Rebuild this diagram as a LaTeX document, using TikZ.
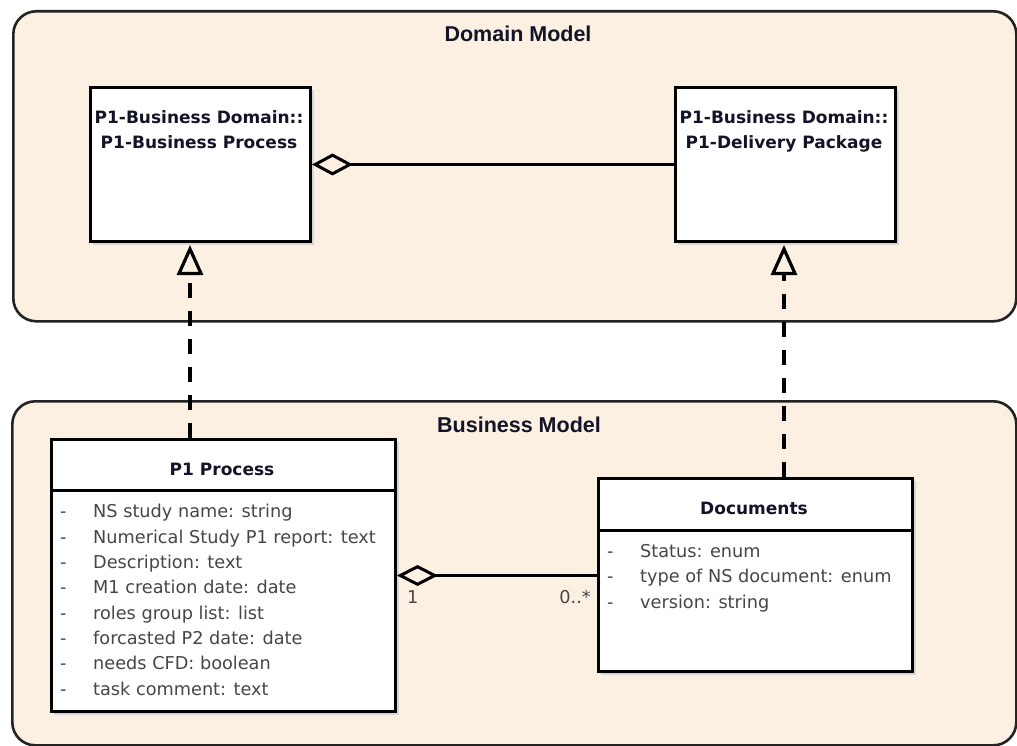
\documentclass[tikz,border=0pt]{standalone}
\usepackage{fontspec}
\setmainfont{DejaVu Sans}
\newfontfamily\pkgfont{Liberation Sans}
\usetikzlibrary{arrows.meta}
\definecolor{pkgfill}{RGB}{251,240,225}
\definecolor{pkgline}{RGB}{35,35,35}
\definecolor{attrtext}{RGB}{70,70,75}
\definecolor{nametext}{RGB}{20,20,40}
\tikzset{
  pkgbox/.style={draw=pkgline, line width=2.6pt, fill=pkgfill, rounded corners=23pt, inner sep=0pt, anchor=north west},
  pkgtitle/.style={font={\pkgfont\bfseries\fontsize{21.5}{24}\selectfont}, text=nametext, anchor=base, inner sep=0pt},
  umlbox/.style={draw=black, line width=3pt, fill=white, inner sep=0pt, anchor=north west,
    preaction={fill=black!16, draw=black!16, line width=1pt, transform canvas={shift={(3pt,-3pt)}}}},
  classname/.style={font={\bfseries\fontsize{17}{25}\selectfont}, text=nametext, anchor=base, inner sep=0pt, align=center},
  attrs/.style={font={\fontsize{17.7}{25.3}\selectfont}, text=attrtext, anchor=base west, inner sep=0pt, align=left},
  mult/.style={font={\fontsize{17.7}{20}\selectfont}, text=attrtext, inner sep=0pt},
  assoc/.style={draw=black, line width=3pt},
  realize/.style={draw=black, line width=3.2pt, dash pattern=on 15pt off 13pt},
}
\newcommand{\dashcol}[1]{\makebox[33pt][l]{-}#1}
\begin{document}
\begin{tikzpicture}[x=1pt, y=-1pt]
\useasboundingbox (0,0) rectangle (1017,746);

% packages
\node[pkgbox, minimum width=1003pt, minimum height=310pt] (domain) at (12,10) {};
\node[pkgtitle] (domaintitle) at (518,42) {Domain Model};
\node[pkgbox, minimum width=1004pt, minimum height=344pt] (business) at (11,400) {};
\node[pkgtitle] (businesstitle) at (519,432) {Business Model};

% domain classes (base anchor = baseline of last line)
\node[umlbox, minimum width=220pt, minimum height=154pt] (bp) at (89,86) {};
\node[classname] (bptext) at (199,149) {P1-Business Domain::\\P1-Business Process};
\node[umlbox, minimum width=220pt, minimum height=154pt] (dp) at (674,86) {};
\node[classname] (dptext) at (784,149) {P1-Business Domain::\\P1-Delivery Package};

% business classes
\node[umlbox, minimum width=344pt, minimum height=272pt] (proc) at (50,438) {};
\draw[line width=3pt] (proc.west |- 0,490) -- (proc.east |- 0,490);
\node[classname] (proctitle) at (222,475) {P1 Process};
\node[attrs] (procattrs) at (60,695) {\dashcol{NS study name: string}\\
\dashcol{Numerical Study P1 report: text}\\
\dashcol{Description: text}\\
\dashcol{M1 creation date: date}\\
\dashcol{roles group list: list}\\
\dashcol{forcasted P2 date: date}\\
\dashcol{needs CFD: boolean}\\
\dashcol{task comment: text}};

\node[umlbox, minimum width=314pt, minimum height=193pt] (docs) at (597,477) {};
\draw[line width=3pt] (docs.west |- 0,530) -- (docs.east |- 0,530);
\node[classname] (docstitle) at (754,514) {Documents};
\node[attrs] (docsattrs) at (607,608) {\dashcol{Status: enum}\\
\dashcol{type of NS document: enum}\\
\dashcol{version: string}};

% aggregations
\draw[assoc, {Diamond[open, length=41pt, width=22pt]}-] (bp.east) -- (bp.east -| dp.west);
\draw[assoc, {Diamond[open, length=41pt, width=21pt]}-] (proc.east) -- (proc.east -| docs.west);
\node[mult, anchor=base west] (m1) at (407,603) {1};
\node[mult, anchor=base east] (m2) at (591,603) {0..*};

% realizations
\coordinate (g1) at (190,0);
\coordinate (g2) at (784,0);
\draw[realize, -{Triangle[open, length=30pt, width=26pt]}, shorten >=2pt] (g1 |- proc.north) -- (g1 |- bp.south);
\draw[realize, -{Triangle[open, length=30pt, width=26pt]}, shorten >=2pt] (g2 |- docs.north) -- (g2 |- dp.south);
\end{tikzpicture}
\end{document}
